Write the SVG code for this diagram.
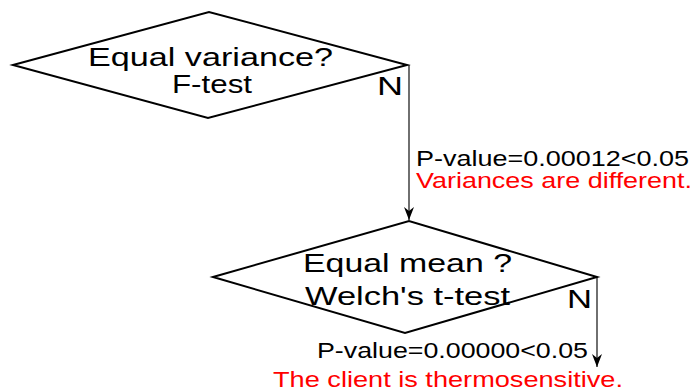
<svg xmlns="http://www.w3.org/2000/svg" width="693" height="392" viewBox="0 0 693 392">
<style>
.node polygon{fill:#fff;stroke:#000;stroke-width:2}
.lbl{font-family:"Liberation Sans",Arial,sans-serif;fill:#000}
.big{font-size:25px}
.n{font-size:26.5px}
.sm{font-size:21.5px}
.red{fill:#ff0000}
.edge{fill:none;stroke:#222;stroke-width:1.3}
</style>
<defs>
<marker id="arr" markerWidth="14" markerHeight="10" refX="13" refY="5" orient="auto" markerUnits="userSpaceOnUse" viewBox="0 0 14 10">
<path d="M0,0 L13,5 L0,10 L4,5 Z" fill="#000"/>
</marker>
</defs>
<rect width="693" height="392" fill="#fff"/>
<g id="connectors">
<path class="edge" d="M409,65 L409,220" marker-end="url(#arr)"/>
<path class="edge" d="M597,277 L597,367" marker-end="url(#arr)"/>
</g>
<g id="node-variance" class="node">
<polygon points="13,65 209,12 407,65 208,118"/>
<text class="lbl big" x="88" y="66" textLength="245" lengthAdjust="spacingAndGlyphs">Equal variance?</text>
<text class="lbl big" x="172" y="93" textLength="80" lengthAdjust="spacingAndGlyphs">F-test</text>
<text class="lbl n" x="377" y="95" textLength="26" lengthAdjust="spacingAndGlyphs">N</text>
</g>
<g id="label-variance">
<text class="lbl sm" x="416" y="166" textLength="273" lengthAdjust="spacingAndGlyphs">P-value=0.00012&lt;0.05</text>
<text class="lbl sm red" x="416" y="188" textLength="276" lengthAdjust="spacingAndGlyphs">Variances are different.</text>
</g>
<g id="node-mean" class="node">
<polygon points="213,277 409,221 597,277 405,333"/>
<text class="lbl big" x="303" y="272" textLength="209" lengthAdjust="spacingAndGlyphs">Equal mean ?</text>
<text class="lbl big" x="305" y="305" textLength="205" lengthAdjust="spacingAndGlyphs">Welch's t-test</text>
<text class="lbl n" x="567" y="308" textLength="25" lengthAdjust="spacingAndGlyphs">N</text>
</g>
<g id="label-mean">
<text class="lbl sm" x="317" y="358" textLength="271" lengthAdjust="spacingAndGlyphs">P-value=0.00000&lt;0.05</text>
<text class="lbl sm red" x="273" y="387" textLength="350" lengthAdjust="spacingAndGlyphs">The client is thermosensitive.</text>
</g>
</svg>
